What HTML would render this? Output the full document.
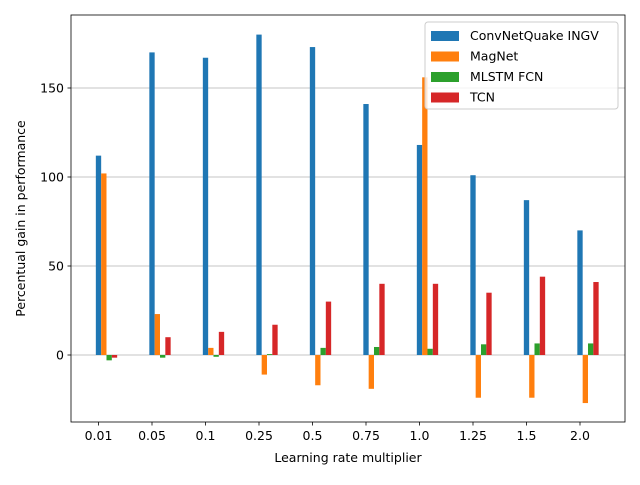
<!DOCTYPE html>
<html><head><meta charset="utf-8"><style>
body{margin:0;background:#fff;font-family:"Liberation Sans","DejaVu Sans",sans-serif;}
svg text{font-family:"DejaVu Sans","Liberation Sans",sans-serif;font-size:12.5px;fill:#000}
</style></head><body>
<svg id="c" width="640" height="480"></svg>
<script>
const categories=["0.01","0.05","0.1","0.25","0.5","0.75","1.0","1.25","1.5","2.0"];
const seriesNames=["ConvNetQuake INGV","MagNet","MLSTM FCN","TCN"];
const convnet=[112,170,167,180,173,141,118,101,87,70];
const magnet=[102,23,4,-11,-17,-19,156,-24,-24,-27];
const mlstm=[-3,-1.5,-1,0.5,4,4.5,3.5,6,6.5,6.5];
const tcn=[-1.5,10,13,17,30,40,40,35,44,41];
const yTicks=[0,50,100,150];
const colors=["#1f77b4","#ff7f0e","#2ca02c","#d62728"];
const series=[convnet,magnet,mlstm,tcn];
const NS="http://www.w3.org/2000/svg";
const svg=document.getElementById('c');
const L=71,R=625,T=15,B=422;
const y=v=>355-v*1.78;
const x=i=>98.5+i*53.5;
const bw=5.33;
function el(t,a,p){const e=document.createElementNS(NS,t);for(const k in a)e.setAttribute(k,a[k]);(p||svg).appendChild(e);return e;}
yTicks.forEach(v=>{
 const g=el('line',{x1:L,x2:R,y1:y(v),y2:y(v),stroke:'#b0b0b0','stroke-width':0.8});
 
 
 el('line',{x1:L-3.5,x2:L,y1:y(v),y2:y(v),stroke:'#000','stroke-width':0.8});
 const t=el('text',{x:L-7,y:y(v)+4.5,'text-anchor':'end'});t.textContent=v;
 
 
});
series.forEach((s,si)=>{
 s.forEach((v,i)=>{
  const cx=x(i)+si*bw;
  const r=el('rect',{x:cx-bw/2,width:bw,y:Math.min(y(v),y(0)),height:Math.abs(y(v)-y(0)),fill:colors[si]});
  
  
 });
});
categories.forEach((c,i)=>{
 el('line',{x1:x(i),x2:x(i),y1:B,y2:B+3.5,stroke:'#000','stroke-width':0.8});
 const t=el('text',{x:x(i),y:B+18,'text-anchor':'middle'});t.textContent=c;
 
 
});
const f=el('rect',{x:L,y:T,width:R-L,height:B-T,fill:'none',stroke:'#000','stroke-width':0.8});


const xt=el('text',{x:(L+R)/2,y:462,'text-anchor':'middle'});xt.textContent="Learning rate multiplier";


const yt=el('text',{x:0,y:0,'text-anchor':'middle',transform:`translate(25,${(T+B)/2}) rotate(-90)`});yt.textContent="Percentual gain in performance";


const lg=el('g',{});


el('rect',{x:425,y:22,width:193,height:87,rx:3,fill:'#fff','fill-opacity':0.8,stroke:'#ccc'},lg);
seriesNames.forEach((n,i)=>{
 const yy=35+i*20.5;
 el('rect',{x:431,y:yy-4,width:28,height:10,fill:colors[i]},lg);
 const t=el('text',{x:470,y:yy+5},lg);t.textContent=n;
 
 
});
</script>
</body></html>
